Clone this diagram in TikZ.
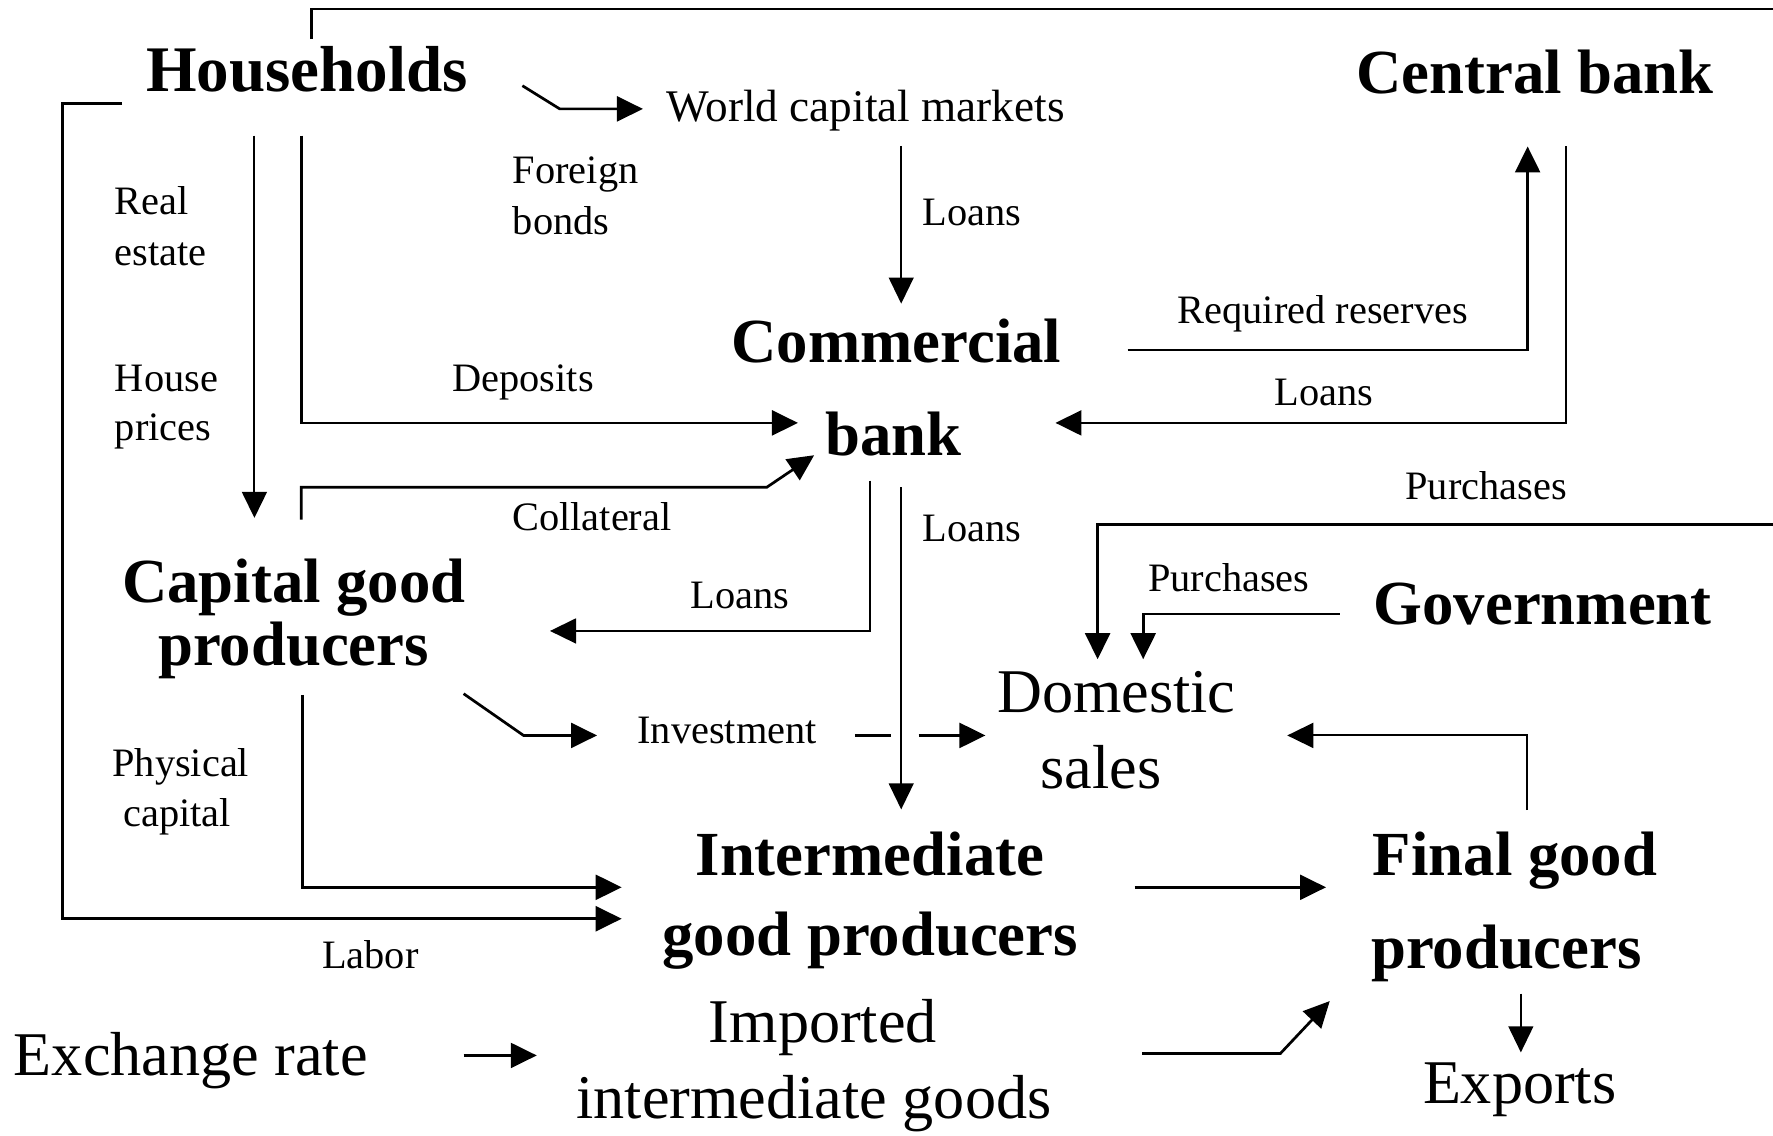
\documentclass[tikz,border=0pt]{standalone}
\usepackage{fontspec}
\setmainfont{Liberation Serif}
\usetikzlibrary{arrows.meta}
\begin{document}
\begin{tikzpicture}[x=1pt,y=-1pt,
  sector/.style={font=\fontsize{55.5}{60}\selectfont\bfseries, inner sep=0pt, anchor=base},
  market/.style={font=\fontsize{55}{60}\selectfont, inner sep=0pt, anchor=base},
  midtext/.style={font=\fontsize{40}{44}\selectfont, inner sep=0pt, anchor=base},
  flowlabel/.style={font=\fontsize{35.7}{40}\selectfont, inner sep=0pt, anchor=base},
  tip/.style={-{Triangle[length=23pt,width=22pt]}},
  heavy/.style={line width=2.4pt, tip},
  medium/.style={line width=1.8pt, tip},
  light/.style={line width=1.3pt, tip},
  wire/.style={line width=2.4pt}]
\fill[white] (0,0) rectangle (1568,1003.8);
\useasboundingbox (0,0) rectangle (1568,1003.8);

% ---- sectors ----
\node[sector, font=\fontsize{57.5}{62}\selectfont\bfseries] (hh) at (271.5,80.5) {Households};
\node[sector] (cbk)  at (1357.4,82.8) {Central bank};
\node[sector] (com1) at (792.7,320.6) {Commercial};
\node[sector] (com2) at (790,402.5)   {bank};
\node[sector] (cg1)  at (259.9,533)   {Capital good};
\node[sector] (cg2)  at (259.7,588.3) {producers};
\node[sector] (gov)  at (1364.3,552.1) {Government};
\node[sector] (ig1)  at (769.3,774.6) {Intermediate};
\node[sector] (ig2)  at (769.7,845)   {good producers};
\node[sector, anchor=base west] (fg1) at (1214,774.6)  {Final good};
\node[sector, anchor=base west] (fg2) at (1212.4,856.8) {producers};

% ---- markets and external variables ----
\node[midtext] (wcm) at (765.5,107.4) {World capital markets};
\node[market] (dom1) at (987.3,630.3) {Domestic};
\node[market] (dom2) at (973.9,697.4) {sales};
\node[market] (im1)  at (727.8,922.3) {Imported};
\node[market] (im2)  at (719.8,989.4) {intermediate goods};
\node[market] (xr)   at (168.8,950.7) {Exchange rate};
\node[market] (exp)  at (1344,976)    {Exports};

% ---- flow labels ----
\node[flowlabel, anchor=base west] (fb1) at (453.4,162.7) {Foreign};
\node[flowlabel, anchor=base west] (fb2) at (453.4,207)   {bonds};
\node[flowlabel, anchor=base west] (re1) at (101.5,189.5) {Real};
\node[flowlabel, anchor=base west] (re2) at (101.5,235)   {estate};
\node[flowlabel, anchor=base west] (hp1) at (101.5,346)   {House};
\node[flowlabel, anchor=base west] (hp2) at (101.5,390)   {prices};
\node[flowlabel] (ln1)  at (859.5,199)    {Loans};
\node[flowlabel] (rr)   at (1169.8,285.7) {Required reserves};
\node[flowlabel] (dep)  at (462.7,346)    {Deposits};
\node[flowlabel] (ln2)  at (1170.7,358.5) {Loans};
\node[flowlabel] (pur1) at (1314.4,442)   {Purchases};
\node[flowlabel] (col)  at (523.5,469)    {Collateral};
\node[flowlabel] (ln3)  at (859.5,478.5)  {Loans};
\node[flowlabel] (pur2) at (1086.8,522.9) {Purchases};
\node[flowlabel] (ln4)  at (654.4,538)    {Loans};
\node[flowlabel] (inv)  at (643,657.8)    {Investment};
\node[flowlabel] (pc1)  at (159.9,686.3)  {Physical};
\node[flowlabel] (pc2)  at (156.8,731)    {capital};
\node[flowlabel] (lab)  at (327.5,856.8)  {Labor};

% ---- connector end points ----
\coordinate (hhTop)   at (275.7,34.7);
\coordinate (edgeTop) at (1568,8);
\coordinate (hhFb)    at (462,75.8);
\coordinate (wcmIn)   at (568.6,96.3);
\coordinate (hhLab)   at (108,91.6);
\coordinate (igLab)   at (549.8,812.5);
\coordinate (hhRe)    at (225,120);
\coordinate (cgRe)    at (225,458);
\coordinate (hhDep)   at (266.5,120);
\coordinate (bkDep)   at (705.7,374);
\coordinate (cgCol)   at (266.5,459.5);
\coordinate (colBend) at (678,431);
\coordinate (bkCol)   at (720,402.6);
\coordinate (wcmOut)  at (797,129);
\coordinate (bkIn)    at (797,268.5);
\coordinate (bkRes)   at (997.3,309.5);
\coordinate (cbIn)    at (1351,129.5);
\coordinate (cbOut)   at (1385,129.5);
\coordinate (bkCb)    at (933.4,374);
\coordinate (bkCg)    at (769,425);
\coordinate (cgLn)    at (486.4,558);
\coordinate (bkIg)    at (797,431);
\coordinate (igLn)    at (797,715.8);
\coordinate (cgInv)   at (410,613.5);
\coordinate (invIn)   at (528,650.4);
\coordinate (invOut)  at (756,650.4);
\coordinate (gapL)    at (788,650.4);
\coordinate (gapR)    at (812.5,650.4);
\coordinate (domInv)  at (871.5,650.4);
\coordinate (edgePur) at (1568,463.7);
\coordinate (domHh)   at (970.7,583);
\coordinate (govOut)  at (1185,543);
\coordinate (domGov)  at (1011,583);
\coordinate (fgDom)   at (1350,716.4);
\coordinate (domFg)   at (1138.4,650.4);
\coordinate (cgPk)    at (267.5,614.5);
\coordinate (igPk)    at (549.8,784.7);
\coordinate (igOut)   at (1003.4,784.7);
\coordinate (fgIg)    at (1172.7,784.7);
\coordinate (imOut)   at (1010,931.7);
\coordinate (imBend)  at (1132.3,931.7);
\coordinate (fgIm)    at (1176,885.3);
\coordinate (fgExp)   at (1345,878.7);
\coordinate (expIn)   at (1345,930.7);
\coordinate (xrOut)   at (410,933.4);
\coordinate (imXr)    at (474.7,933.4);

% ---- connectors ----
\draw[wire] (hhTop) |- (edgeTop);
\draw[heavy] (hhFb) -- ++(33,20.5) -- (wcmIn);
\draw[heavy] (hhLab) -- ++(-53,0) |- (igLab);
\draw[medium] (hhRe) -- (cgRe);
\draw[heavy] (hhDep) |- (bkDep);
\draw[heavy] (cgCol) |- (colBend) -- (bkCol);
\draw[light] (wcmOut) -- (bkIn);
\draw[heavy] (bkRes) -| (cbIn);
\draw[heavy] (cbOut) |- (bkCb);
\draw[medium] (bkCg) |- (cgLn);
\draw[light] (bkIg) -- (igLn);
\draw[heavy] (cgInv) -- ++(53,36.9) -- (invIn);
\draw[line width=2.2pt] (invOut) -- (gapL);
\draw[heavy] (gapR) -- (domInv);
\draw[heavy] (edgePur) -| (domHh);
\draw[heavy] (govOut) -| (domGov);
\draw[medium] (fgDom) |- (domFg);
\draw[heavy] (cgPk) |- (igPk);
\draw[heavy] (igOut) -- (fgIg);
\draw[heavy] (imOut) -- (imBend) -- (fgIm);
\draw[light] (fgExp) -- (expIn);
\draw[heavy] (xrOut) -- (imXr);
\end{tikzpicture}
\end{document}
